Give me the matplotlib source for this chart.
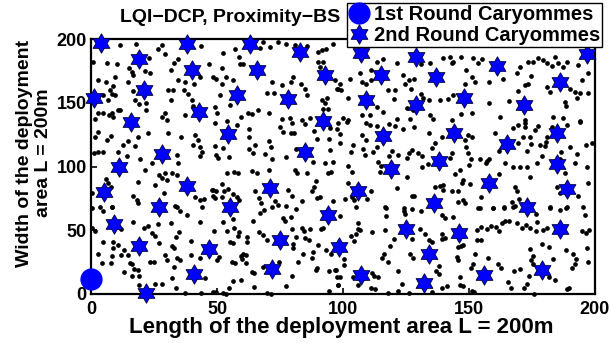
import numpy as np
import matplotlib
matplotlib.use("Agg")
import matplotlib.pyplot as plt
from matplotlib.path import Path

plt.rcParams['font.family'] = ['Liberation Sans', 'DejaVu Sans']
plt.rcParams['font.weight'] = 'bold'

# Sensor node positions (x, y) in metres
nodes_top = [
    (11.5, 195), (17.7, 196), (28, 195), (26.4, 192), (29.3, 188), (43.6, 194.5), (0.9, 182), (6.2, 181),
    (10.2, 180), (23, 185), (34.6, 184), (33, 181), (46.8, 180), (15, 177), (16.1, 174), (21.4, 175),
    (23.4, 173), (31.7, 176), (9.5, 170), (16.8, 172), (2.9, 168), (5.8, 166), (8.8, 163), (14.5, 166),
    (34.6, 168), (37.3, 166), (41, 165), (43.2, 170), (7.5, 160), (8.2, 157), (9.5, 156), (30.4, 160),
    (32.7, 160), (37, 160), (38.6, 157), (4.9, 156), (16.8, 159), (31.7, 152), (17.4, 152), (19, 149),
    (22, 150), (6.6, 152), (40, 152), (40.6, 147.5), (2.9, 142), (4.9, 142), (7.1, 140), (8.8, 139),
    (10.6, 144), (11.5, 144), (8.2, 142), (22, 144), (28, 139), (29.3, 142), (30, 136.5), (37.3, 140),
    (1.6, 137),
    (52.5, 189), (57.1, 192), (58.8, 186), (67, 193), (68.4, 198), (71, 194), (74.3, 198), (77.4, 196),
    (80.9, 195), (85.6, 194.5), (90.2, 190), (91.5, 191), (93.2, 192), (96.1, 196), (90.2, 182),
    (91.9, 182), (90.9, 178), (59.1, 180), (60.4, 180), (51.8, 177), (48.3, 170), (49.6, 169),
    (53.5, 170), (56.5, 168), (71.7, 166.5), (75.6, 164), (80, 170), (79.2, 166), (83.2, 165),
    (84.9, 160.5), (85.6, 156), (51.8, 165), (51.2, 156), (49.2, 147), (50.1, 142), (55.1, 148),
    (69.9, 158), (72.6, 158), (70.7, 142), (66.4, 144), (62.4, 142), (63.7, 141), (59.4, 138.6),
    (53.8, 136), (75.6, 137), (78.9, 138), (83.6, 136.5), (86.9, 138), (91.5, 152), (92.8, 150),
    (93.8, 153.5), (91.9, 145), (94.2, 145), (96.8, 168), (98.1, 161),
    (113.3, 182), (116, 184), (111.1, 176), (106.7, 173), (102.8, 169), (98.8, 165), (97.5, 161),
    (107.4, 166.5), (109, 165), (111.1, 168), (121.3, 181), (123.9, 172), (126.2, 168), (124.8, 165),
    (128.3, 169), (130.9, 180), (134.5, 181), (139.8, 185), (142.4, 186), (143.8, 182), (146.8, 186),
    (143.1, 181), (99.4, 160), (102.1, 153.5), (117.7, 160), (120.6, 160), (127, 161), (130.9, 157),
    (131.9, 153.5), (134.1, 152), (138.5, 152), (141.5, 152.7), (143.8, 156), (120.3, 152.7),
    (127.9, 144), (125.2, 145.6), (116, 143), (113.3, 146.4), (110.7, 140.4), (107.4, 140.4),
    (121.3, 137), (126.6, 137), (134.5, 140.4), (135.8, 137), (100.1, 137.8), (102.1, 136.5),
    (143.1, 136.5), (146.8, 141),
    (151.7, 184.8), (153.7, 181), (155, 184), (149, 176), (151, 170), (152.4, 166.5), (148.4, 165),
    (158, 166.5), (163.6, 169), (168.9, 173.6), (170.2, 178), (173.5, 182), (175.2, 182),
    (177.5, 184.8), (179.5, 183.5), (180.8, 181), (182.8, 179), (185.4, 181), (187.4, 178), (189, 182),
    (193.4, 179.6), (184.1, 185.6), (174.8, 171), (172.2, 164), (173.5, 164.7), (169.5, 159.5),
    (180.8, 162), (182.1, 158.7), (190, 160.5), (192, 158.7), (194, 157.4), (197.3, 158), (194.7, 168),
    (197.3, 173), (193, 153.5), (188.1, 150.9), (188.5, 147.5), (166, 151), (158, 150), (151, 141.7),
    (162.3, 139), (172.2, 136.5), (183.4, 138.6), (187.4, 138), (194, 136),
]

nodes_mid = [
    (2.9, 127.4), (1.6, 123.4), (6.2, 120.8), (7.9, 124), (12.8, 117), (14.8, 120.3), (17.4, 116),
    (18.5, 123.4), (22.7, 126), (30.4, 126.6), (35.9, 123.4), (41.3, 124.8), (42.6, 120.8), (40.6, 117),
    (43.2, 115.6), (43.9, 111.7), (43.2, 108.3), (1.3, 110.4), (2.9, 111.7), (4.9, 111.7), (10.6, 111.7),
    (14.1, 108.3), (19.4, 105.7), (24.1, 102.6), (34, 109), (34.6, 102.6), (21.4, 97.3), (27, 93.4),
    (29.3, 95.2), (32.3, 95.2), (34, 93.4), (28, 90.8), (30, 89.5), (25.4, 85.6), (5.9, 90), (6.9, 86.9),
    (7.9, 84.3), (18.8, 88.2), (0.2, 79.6), (16.8, 77), (18.1, 73.8), (18.8, 71.7), (29.1, 79.6),
    (33.3, 69.1), (41.3, 75.9), (43.2, 73.8), (45, 74.3), (47.9, 81.7), (48.5, 77), (3.6, 68), (8.2, 68),
    (49.2, 134.4), (58, 132.6), (75, 130.8), (76, 127.4), (79.6, 134.4), (84.9, 133.4), (79.2, 126),
    (80.5, 126.6), (88.5, 128.1), (94.8, 130), (97.5, 129.2), (62.8, 129.2), (62.8, 122.9), (70.7, 120.3),
    (49.2, 116.1), (52.2, 114.3), (65.1, 117), (62.8, 113.5), (64.4, 110.9), (71.3, 115.6), (69, 109.9),
    (71.7, 105.7), (49.8, 109.1), (50.5, 106.5), (54.9, 107.3), (77.4, 107.3), (81.3, 113.5),
    (89.8, 121.4), (94.6, 121.4), (94.8, 113), (92.8, 103.1), (95.9, 103.9), (87.9, 103.9), (80.9, 97.3),
    (81.6, 94.7), (85.6, 94.7), (70.7, 97.3), (63.7, 96.8), (66, 95.2), (53.8, 95.2), (56.7, 96),
    (58.4, 95.2), (94.2, 94.7), (95.1, 96), (89.3, 89), (88.5, 84.3), (87.5, 80.4), (90.9, 75.9),
    (89.5, 75.1), (78.3, 81.7), (79.6, 77), (83.6, 73.3), (77.4, 69.1), (65, 80.4), (66.8, 75.1),
    (67.3, 71.2), (73, 73.3), (74.3, 69.9), (48.3, 81.7), (49.8, 80.4), (51.8, 86.4), (52.8, 81.1),
    (54.5, 82.2), (56.5, 78.5), (57.8, 75.9), (49.2, 75.1), (51.8, 76.4), (58.8, 73.8), (96.1, 73.3),
    (98.1, 134.4), (101.4, 135.2), (109, 134.4), (110.7, 132.6), (113.3, 131.8), (118.2, 133.4),
    (120.6, 131.8), (123.9, 129.2), (128.3, 130.8), (134.1, 126.6), (139.1, 122.9), (98.8, 125.5),
    (107.4, 124.8), (98.8, 118.2), (104.1, 116.9), (109, 120.8), (108, 113.5), (112, 111.7),
    (113.3, 115.1), (103.2, 111.7), (108.7, 109.1), (118.2, 108.3), (119.6, 112.5), (121.7, 109.1),
    (125.2, 106.5), (127.2, 113), (126.2, 110.4), (129.6, 110.4), (131.5, 108.3), (135.2, 114.3),
    (136.5, 118.7), (143.1, 110.4), (142.4, 106.5), (131.5, 100), (133.6, 102), (113.7, 103.9),
    (114.7, 96), (115, 100.5), (101.8, 100.5), (103.4, 96), (125.2, 92.1), (146.4, 97.3), (144.4, 94.2),
    (102.1, 86.9), (111.1, 80.4), (121.3, 83), (100.8, 74.4), (103.4, 75.9), (104.5, 73.8), (109.4, 74.4),
    (127.2, 77), (128.3, 77), (136.5, 84.3), (138.5, 84.8), (139.8, 85.6), (139.8, 81.7), (143.1, 81.1),
    (145.5, 80.4), (147.1, 86.9), (145.7, 72.5), (147.7, 73.8), (116.6, 68.1), (124.3, 67.3),
    (127.5, 66.5),
    (149.7, 124.8), (151, 122.9), (148.4, 120.8), (149, 115.1), (149.7, 110.4), (150.6, 105.7),
    (150.1, 101.3), (154.3, 105.7), (157, 104.6), (158, 105.7), (156.7, 102.6), (160.3, 126.6),
    (167.3, 130), (169.5, 132.6), (172.2, 133.9), (172.2, 131.3), (177.5, 131.8), (176.2, 128.7),
    (181.1, 123.4), (182.8, 130.8), (188.7, 132.6), (194, 135.2), (171.3, 123.4), (174.4, 123.4),
    (169.5, 118.2), (174.8, 117.7), (178.1, 116.9), (180.5, 119.5), (180.1, 116.1), (172.9, 112.5),
    (178.8, 108.3), (177.1, 103.1), (170.2, 100), (172.9, 100), (167.6, 99.4), (164.3, 103.1),
    (162, 112.5), (190, 115.6), (192.7, 109.9), (192, 102.6), (196.4, 116.9), (199, 118.7), (196.7, 100),
    (186.7, 111.7), (186.3, 105.7), (188.1, 95.2), (174.4, 91.6), (147.7, 89.5), (150.4, 86.4),
    (162, 94.2), (168.2, 84.3), (169.2, 80.4), (184.8, 84.3), (186.1, 79.6), (197.3, 86.9), (193.4, 77),
    (154.6, 75.9), (166.9, 72.5), (168.2, 69.1), (169.9, 74.4), (148.4, 71.2), (153.7, 67.3),
    (159.6, 67.3), (163.9, 68.1), (182.1, 68.1), (189, 68.1), (195.3, 68.1),
]

nodes_low = [
    (0.2, 67.7), (4.9, 65.1), (8.2, 68.5), (34, 68.5), (35.3, 65.1), (37.9, 62), (43.9, 68.5), (0.2, 51.5),
    (1.6, 49.4), (16.8, 56.2), (11.9, 51), (21.1, 52), (22.7, 53.6), (24.1, 47.6), (25.4, 45.8),
    (26.4, 54.7), (31.7, 55.4), (34.9, 48.4), (33.6, 45), (39.7, 41.6), (43.2, 56.2), (4.9, 40.6),
    (8.8, 41.1), (10.6, 38.5), (8.8, 36.4), (13.2, 34.5), (11.9, 30.6), (14.5, 30.6), (8.4, 30.1),
    (27, 39.8), (32.3, 38), (33.1, 36.4), (29.3, 30.6), (30, 26.7), (34, 28), (35.3, 26.7), (39.7, 30.6),
    (43.2, 28.6), (2.6, 31.2), (4.5, 24.1), (7.9, 24.1), (15.5, 24.1), (16.1, 23.3), (23.4, 24.9),
    (25.1, 24.9), (17.2, 19.7), (18.5, 18.9), (13.2, 17.6), (16.1, 14.5), (19, 14.5), (33.1, 21.5),
    (32.3, 12.9), (19, 7.1), (25.4, 7.7), (28.3, 7.7), (33.6, 5), (37.3, 0.6), (43.6, 0.6), (48.5, 1.4),
    (45.2, 12.9),
    (64.1, 57.3), (67, 63.3), (68.6, 65.9), (71.7, 68.5), (81.3, 66.7), (76, 59.9), (77, 57.3),
    (79.2, 60.7), (48.8, 49.4), (52.2, 56.2), (56.2, 58.8), (53.8, 49.4), (56.7, 51.5), (58.8, 48.4),
    (58.4, 45.8), (62, 45), (62, 40.6), (66.8, 48.4), (68.1, 46.3), (69.7, 42.4), (79.6, 51), (83.6, 52),
    (84.5, 49.4), (87.1, 51), (81.3, 45), (84.9, 44.2), (86.6, 42.4), (91.1, 51), (92.2, 52), (90.2, 38.5),
    (55.1, 41.1), (56.2, 39.8), (80, 39), (80.3, 36.4), (50.9, 29.3), (50.1, 26.7), (59.4, 30.1),
    (60.2, 31.2), (61.7, 30.6), (59.8, 27.5), (55.8, 24.9), (57.1, 24.1), (61.7, 24.1), (68.1, 21.5),
    (74.7, 25.4), (84.2, 31.2), (88.2, 33.3), (87.5, 28.6), (82.3, 24.9), (89.5, 20.7), (89.3, 18.9),
    (93.2, 34.5), (95.1, 31.2), (94.6, 18.1), (96.8, 18.9), (97.5, 13.7), (63.7, 17), (64.7, 16.3),
    (79.6, 14.5), (59.4, 11.1), (56.2, 10.3), (64.7, 5.8), (77.4, 6.6), (54.9, 4.5), (49.6, 1.9),
    (52.2, 0.6), (53.5, 0), (69.7, 0.6), (71.3, 0), (94.6, 2.4), (98.1, 7.1),
    (98.8, 61.4), (105, 68.5), (116.9, 67.2), (116.9, 61.4), (124.3, 65.1), (124.6, 62.5), (130.9, 65.1),
    (139.4, 62), (140.4, 59.9), (143.8, 60.7), (106.1, 55.4), (106.7, 50.2), (105.8, 51), (111.4, 48.9),
    (116.6, 50.2), (103.2, 45.8), (105, 46.8), (104.5, 41.6), (120.3, 43.2), (118.6, 37.9),
    (127.5, 43.2), (130.5, 51), (132.5, 46.8), (134.1, 42.4), (135.2, 40.6), (139.4, 46.8),
    (139.1, 43.2), (140.4, 43.7), (145.5, 37.2), (146.8, 37.9), (116.4, 31.2), (115.3, 28.6),
    (117.7, 25.4), (126.6, 31.2), (127.9, 28.6), (145.1, 29.3), (145.5, 26.7), (100.5, 27.5),
    (100.5, 22.8), (97.1, 18.9), (98.8, 13.7), (104.1, 13.7), (111.4, 16.3), (112.4, 14.5),
    (113.7, 13.7), (121.7, 18.1), (98.1, 7.1), (105.8, 7.1), (111.1, 4.5), (112.7, 4), (118, 0.6),
    (121.9, 2.4), (123.5, 7.7), (126.2, 0.6), (135.2, 1.4), (138.1, 22.3), (137.1, 18.1), (138.1, 15.5),
    (139.4, 5), (141.1, 6.6), (146.4, 13.7), (146.4, 7.1),
    (154.3, 67.7), (159.6, 67.7), (163.9, 67.7), (167.6, 68.5), (182.1, 67.2), (186.1, 65.9),
    (188.5, 67.2), (196, 62), (176.6, 62.5), (177.1, 56.7), (153, 50.2), (154.6, 52.8), (157, 51),
    (158.6, 53.6), (160.7, 52.8), (162, 49.4), (162.9, 55.4), (164.3, 57.3), (166, 57.3), (168.9, 55.4),
    (170.9, 51.5), (172.6, 54.1), (174.2, 52), (176.6, 49.4), (179.2, 50.2), (181.1, 51.5), (153.3, 42.4),
    (154.6, 42.4), (147.5, 38.5), (152.4, 31.2), (157.6, 28.6), (151.4, 23.3), (150.6, 20.7),
    (161.6, 23.3), (162.5, 20.7), (174.2, 35.3), (178.8, 39), (181.9, 37.2), (175.2, 30.1),
    (174.8, 26.7), (175.5, 23.3), (183.4, 27.5), (188.5, 34.5), (191.1, 31.2), (192.4, 27.5),
    (192, 23.3), (196.9, 36.4), (197.3, 24.9), (194.7, 49.4), (196.4, 47.6), (197.7, 50.2),
    (167.8, 18.1), (170.2, 19.7), (173.9, 14.5), (181.9, 13.7), (184.1, 11.1), (190.7, 20.2),
    (165.6, 9.2), (147.5, 6.6), (151, 2.4), (152, 1.4), (166.5, 5), (171.8, 5), (172.9, 7.7), (175.8, 0),
    (188.7, 4), (189.8, 4.5),
]

# Caryomme heads
first_round_x = [0]
first_round_y = [12]

second_round_x = [4, 1.3, 38, 19, 40, 21, 43, 16, 28, 11, 5, 38, 27, 9, 19, 47, 41, 22,
                  63, 83, 66, 93, 58, 78, 92, 54.5, 85, 71, 55, 94, 75, 98.5, 72,
                  107, 129, 115, 137, 109, 129, 148, 197, 161, 186, 172, 116, 144, 138, 119,
                  106, 136, 165, 185, 185, 158, 189, 173, 125, 146, 134, 107, 132, 186, 179, 156]
second_round_y = [197, 154, 196, 184, 176, 160, 143, 135, 110, 100, 80, 85, 68, 55, 38, 35, 16, 1,
                  196, 190, 176, 172, 156, 153, 136, 125.5, 111, 83, 68, 62, 42, 37, 20,
                  189, 186, 172, 170, 152, 148, 154, 188, 179, 166, 148, 124, 126, 104, 98,
                  81, 71, 118, 126, 102, 87, 82, 68, 51, 48, 31, 15, 9, 51, 19, 15]

x_ticks = [0, 50, 100, 150, 200]
y_ticks = [0, 50, 100, 150, 200]

nodes = np.array(nodes_top + nodes_mid + nodes_low)

W, H = 611, 343
fig = plt.figure(figsize=(W / 100, H / 100), dpi=100)
ax = fig.add_axes([91 / W, 49 / H, 504 / W, 255 / H])

ax.plot(nodes[:, 0], nodes[:, 1], linestyle='none', marker='o', markersize=3.4,
        color='black', markeredgewidth=0, clip_on=False, zorder=2)

hexagram = Path.unit_regular_star(6, innerCircle=0.577)
ax.plot(first_round_x, first_round_y, linestyle='none', marker='o', markersize=15,
        markerfacecolor='#0000ff', markeredgecolor='#0000ff', clip_on=False, zorder=3,
        label='1st Round Caryommes')
ax.plot(second_round_x, second_round_y, linestyle='none', marker=hexagram, markersize=14,
        markerfacecolor='#0000ff', markeredgecolor='#000033', markeredgewidth=0.6,
        clip_on=False, zorder=3, label='2nd Round Caryommes')

ax.set_xlim(0, 200)
ax.set_ylim(0, 200)
ax.set_xticks(x_ticks)
ax.set_yticks(y_ticks)
ax.tick_params(direction='in', length=4, width=1.2, labelsize=13, pad=3,
               top=False, right=False)
ax.tick_params(axis='x', pad=5)
for lbl in ax.get_xticklabels() + ax.get_yticklabels():
    lbl.set_fontweight('bold')
for sp in ax.spines.values():
    sp.set_linewidth(1.6)

fig.text(341 / W, 1 - 327 / H, 'Length of the deployment area L = 200m', fontsize=16,
         fontweight='bold', ha='center', va='center')
fig.text(34 / W, 1 - 153 / H, 'Width of the deployment\narea L = 200m', fontsize=14,
         fontweight='bold', ha='center', va='center', rotation=90, linespacing=1.15)

fig.text(120 / W, 1 - 17 / H, 'LQI\u2212DCP, Proximity\u2212BS', fontsize=14,
         fontweight='bold', ha='left', va='center', zorder=1)

leg = fig.legend(loc='upper right', bbox_to_anchor=(602 / W, 1 - 3 / H),
                 bbox_transform=fig.transFigure, borderaxespad=0,
                 prop={'weight': 'bold', 'size': 14.5}, frameon=True, fancybox=False,
                 edgecolor='black', framealpha=1, handlelength=1.0, handletextpad=0.25,
                 borderpad=0.1, labelspacing=0.12)
leg.get_frame().set_linewidth(1.0)
leg.set_zorder(10)

fig.savefig('out.png', dpi=100)
